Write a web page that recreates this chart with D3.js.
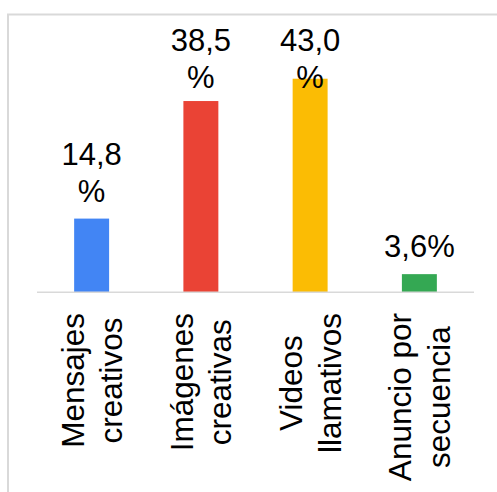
<!DOCTYPE html>
<html>
<head>
<meta charset="utf-8">
<script src="https://cdn.jsdelivr.net/npm/d3@7"></script>
<style>
  html, body { margin: 0; padding: 0; background: #fff; }
  svg { display: block; }
  text { font-family: "Liberation Sans", Arial, sans-serif; fill: #000; }
</style>
</head>
<body>
<svg id="chart" width="497" height="492"></svg>
<script>
// Categories (each line of a label is its own entry) and their shares in percent
const categories = ["Mensajes creativos", "Imágenes creativas", "Videos llamativos", "Anuncio por secuencia"];
const categoryLines = [["Mensajes", "creativos"], ["Imágenes", "creativas"], ["Videos", "llamativos"], ["Anuncio por", "secuencia"]];
const values = [14.8, 38.5, 43.0, 3.6];
const colors = ["#4285f4", "#ea4335", "#fbbc04", "#34a853"];

const svg = d3.select("#chart");
const W = 497, H = 492;

// Frame around the chart
svg.append("rect")
  .attr("x", 8).attr("y", 14.5)
  .attr("width", W).attr("height", H)
  .attr("fill", "none")
  .attr("stroke", "#d9d9d9")
  .attr("stroke-width", 2);

const plot = { left: 37, right: 474, top: 44, bottom: 292 };

const x = d3.scaleBand()
  .domain(categories)
  .range([plot.left, plot.right])
  .paddingInner(0.68)
  .paddingOuter(0.34);

const y = d3.scaleLinear()
  .domain([0, 50])
  .range([plot.bottom, plot.top]);

const data = categories.map((c, i) => ({ cat: c, lines: categoryLines[i], value: values[i], color: colors[i] }));

// Bars
svg.append("g").selectAll("rect")
  .data(data)
  .join("rect")
  .attr("x", d => x(d.cat))
  .attr("y", d => y(d.value))
  .attr("width", x.bandwidth())
  .attr("height", d => y(0) - y(d.value))
  .attr("fill", d => d.color);

// Category axis line
svg.append("line")
  .attr("x1", plot.left).attr("x2", plot.right)
  .attr("y1", plot.bottom + 0.25).attr("y2", plot.bottom + 0.25)
  .attr("stroke", "#d9d9d9")
  .attr("stroke-width", 1.5);

// Value labels: comma decimal, the "%" moves to a second line when too wide
const fmt = v => v.toFixed(1).replace(".", ",");
const valueFont = 31, valueLH = 36.5, maxLabelW = 80, gap = 17, minFirstBaseline = 51;
const labels = svg.append("g");
data.forEach(d => {
  const cx = x(d.cat) + x.bandwidth() / 2;
  const full = fmt(d.value) + "%";
  const probe = labels.append("text").attr("font-size", valueFont).text(full);
  const w = probe.node().getComputedTextLength();
  probe.remove();
  const lines = w > maxLabelW ? [fmt(d.value), "%"] : [full];
  let lastBaseline = y(d.value) - gap;
  let firstBaseline = lastBaseline - (lines.length - 1) * valueLH;
  if (firstBaseline < minFirstBaseline) firstBaseline = minFirstBaseline;
  const t = labels.append("text")
    .attr("font-size", valueFont)
    .attr("text-anchor", "middle");
  lines.forEach((ln, i) => {
    t.append("tspan").attr("x", cx).attr("y", firstBaseline + i * valueLH).text(ln);
  });
});

// Rotated category labels, anchored at their top end below the axis
const catFont = 31.5, catLH = 38.5, labelTop = 313, capH = catFont * 0.716;
const catG = svg.append("g");
data.forEach(d => {
  const cx = x(d.cat) + x.bandwidth() / 2;
  const g = catG.append("g");
  const texts = d.lines.map(ln => g.append("text").attr("font-size", catFont).attr("text-anchor", "middle").text(ln));
  const maxLen = d3.max(texts, t => t.node().getComputedTextLength());
  const cy = labelTop + maxLen / 2;
  const n = d.lines.length;
  const firstBase = cx - ((n - 1) * catLH) / 2 + capH / 2;
  texts.forEach((t, i) => {
    const bx = firstBase + i * catLH;
    t.attr("transform", `translate(${bx},${cy}) rotate(-90)`);
  });
});
</script>
</body>
</html>
